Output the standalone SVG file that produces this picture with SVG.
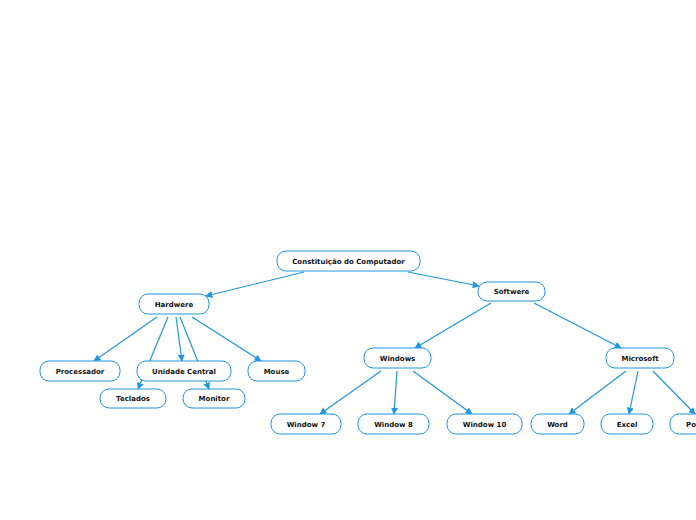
<svg xmlns="http://www.w3.org/2000/svg" width="696" height="520" viewBox="0 0 696 520">
<defs>
<marker id="ah" viewBox="0 0 10 10" refX="9" refY="5" markerWidth="7" markerHeight="7" markerUnits="userSpaceOnUse" orient="auto">
<path d="M0,0 L10,5 L0,10 z" fill="#1e96e0"/>
</marker>
<style>
.n rect{fill:#fff;stroke:#1e96e0;stroke-width:1}
.n text{font-family:"DejaVu Sans",Verdana,sans-serif;font-weight:bold;font-size:7px;fill:#111;text-anchor:middle}
.c line{stroke:#1e96e0;stroke-width:1.2}
.c line.a{marker-end:url(#ah)}
</style>
</defs>
<rect width="696" height="520" fill="#fff"/>
<g id="connectors" class="c">
<line class="a" x1="304" y1="272" x2="206" y2="296"/>
<line class="a" x1="408" y1="272" x2="479" y2="286"/>
<line class="a" x1="157" y1="317" x2="94" y2="361"/>
<line class="a" x1="168" y1="317" x2="138" y2="389"/>
<line class="a" x1="176" y1="317" x2="182" y2="361"/>
<line class="a" x1="180" y1="317" x2="209" y2="389"/>
<line class="a" x1="192" y1="317" x2="261" y2="361"/>
<line class="a" x1="491" y1="303" x2="415" y2="348"/>
<line class="a" x1="534" y1="303" x2="621" y2="348"/>
<line class="a" x1="381" y1="371" x2="320" y2="414"/>
<line class="a" x1="397" y1="371" x2="394" y2="414"/>
<line class="a" x1="413" y1="371" x2="472" y2="414"/>
<line class="a" x1="626" y1="371" x2="569" y2="414"/>
<line class="a" x1="638" y1="371" x2="629" y2="414"/>
<line class="a" x1="653" y1="371" x2="695" y2="414"/>
</g>
<g id="n-root" class="n"><rect x="277" y="251" width="143" height="20" rx="9"/><text x="348.5" y="263.5">Constituição do Computador</text></g>
<g id="n-softwere" class="n"><rect x="478" y="282" width="67" height="19" rx="9"/><text x="511.5" y="294">Softwere</text></g>
<g id="n-hardwere" class="n"><rect x="139" y="294" width="70" height="20" rx="9"/><text x="174" y="306.5">Hardwere</text></g>
<g id="n-processador" class="n"><rect x="40" y="361" width="80" height="20" rx="9"/><text x="80" y="373.5">Processador</text></g>
<g id="n-unidade" class="n"><rect x="137" y="361" width="94" height="20" rx="9"/><text x="184" y="373.5">Unidade Central</text></g>
<g id="n-mouse" class="n"><rect x="248" y="361" width="57" height="20" rx="9"/><text x="276.5" y="373.5">Mouse</text></g>
<g id="n-teclados" class="n"><rect x="100" y="389" width="66" height="19" rx="9"/><text x="133" y="401">Teclados</text></g>
<g id="n-monitor" class="n"><rect x="183" y="389" width="62" height="19" rx="9"/><text x="214" y="401">Monitor</text></g>
<g id="n-windows" class="n"><rect x="364" y="348" width="67" height="20" rx="9"/><text x="397.5" y="360.5">Windows</text></g>
<g id="n-microsoft" class="n"><rect x="606" y="348" width="68" height="20" rx="9"/><text x="640" y="360.5">Microsoft</text></g>
<g id="n-w7" class="n"><rect x="271" y="414" width="70" height="20" rx="9"/><text x="306" y="426.5">Window 7</text></g>
<g id="n-w8" class="n"><rect x="358" y="414" width="71" height="20" rx="9"/><text x="393.5" y="426.5">Window 8</text></g>
<g id="n-w10" class="n"><rect x="447" y="414" width="75" height="20" rx="9"/><text x="484.5" y="426.5">Window 10</text></g>
<g id="n-word" class="n"><rect x="531" y="414" width="53" height="20" rx="9"/><text x="557.5" y="426.5">Word</text></g>
<g id="n-excel" class="n"><rect x="601" y="414" width="52" height="20" rx="9"/><text x="627" y="426.5">Excel</text></g>
<g id="n-po" class="n"><rect x="670" y="414" width="60" height="20" rx="9"/><text x="686" y="426.5" style="text-anchor:start">Po</text></g>
</svg>
